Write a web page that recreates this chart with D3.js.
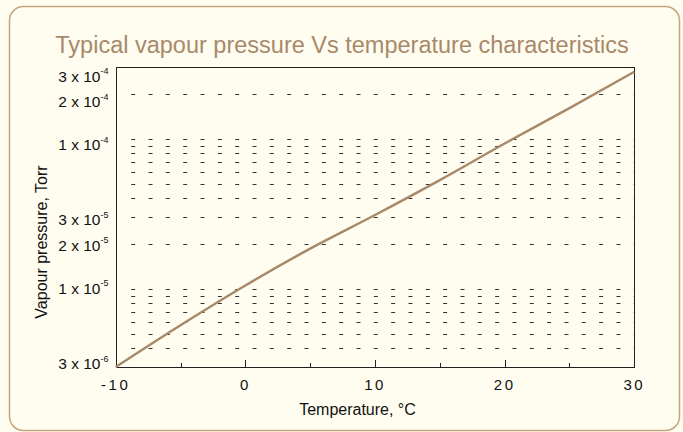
<!DOCTYPE html>
<html>
<head>
<meta charset="utf-8">
<script src="https://cdn.jsdelivr.net/npm/d3@7"></script>
<style>
    html, body { margin: 0; padding: 0; background: #fffdf0; }
    svg { display: block; font-family: 'Liberation Sans', Arial, sans-serif; }
</style>
</head>
<body>
<div id="chart"></div>
<script>
// data
var temps = [-10, -5, 0, 5, 10, 15, 20, 25, 30];                       // deg C
var pressures = [3.0e-6, 5.7e-6, 1.05e-5, 1.85e-5, 3.1e-5, 5.3e-5, 9.3e-5, 1.6e-4, 2.8e-4]; // Torr

var xMajorTicks = [-10, 0, 10, 20, 30];
var xMinorTicks = [-5, 5, 15, 25];
var yGridValues = [4e-6, 5e-6, 6e-6, 7e-6, 8e-6, 9e-6, 1e-5, 2e-5, 3e-5, 4e-5, 5e-5,
                   6e-5, 7e-5, 8e-5, 9e-5, 1e-4, 2e-4, 3e-4];
var yLabelValues = [3e-4, 2e-4, 1e-4, 3e-5, 2e-5, 1e-5, 3e-6];

var vpChart = {

    config: {
        w: 683,
        h: 432,
        left: 115.7,
        right: 634.3,
        top: 67.3,
        bottom: 367,

        titlecolor: '#a8896a',
        linecolor: '#a88a6b',
        bordercolor: '#c6a57e',
        axiscolor: '#222222',
    },

    run: function() {
        var c = vpChart.config;

        var svg = d3.select('#chart').append('svg')
            .attr('width', c.w)
            .attr('height', c.h);

        // rounded frame round everything
        svg.append('rect')
            .attr('x', 9.5).attr('y', 6.5)
            .attr('width', 670).attr('height', 424)
            .attr('rx', 14).attr('ry', 14)
            .attr('fill', 'none')
            .attr('stroke', c.bordercolor)
            .attr('stroke-width', 1.5);

        svg.append('text')
            .attr('x', 342).attr('y', 53)
            .attr('text-anchor', 'middle')
            .attr('font-size', 23.5)
            .attr('fill', c.titlecolor)
            .text('Typical vapour pressure Vs temperature characteristics');

        var x = d3.scaleLinear().domain([-10, 30]).range([c.left, c.right]);
        var y = d3.scaleLog().domain([3e-6, 3e-4]).range([c.bottom, c.top]);
        // the tick labels sit on a slightly squeezed copy of the y scale
        var yLab = y.copy().range([c.bottom + 2, c.top + 14.5]);

        // dashed grid
        svg.append('g').selectAll('line').data(yGridValues).enter()
            .append('line')
            .attr('x1', c.left + 15.5)
            .attr('x2', c.right)
            .attr('y1', function(d) { return Math.round(y(d)) + 0.5; })
            .attr('y2', function(d) { return Math.round(y(d)) + 0.5; })
            .attr('stroke', '#333')
            .attr('stroke-dasharray', '4,13.33');

        // frame
        svg.append('rect')
            .attr('x', Math.round(c.left) + 0.5)
            .attr('y', Math.round(c.top) + 0.5)
            .attr('width', Math.round(c.right) - Math.round(c.left))
            .attr('height', Math.round(c.bottom) - Math.round(c.top))
            .attr('fill', 'none')
            .attr('stroke', c.axiscolor);

        // inward ticks on the bottom axis
        svg.append('g').selectAll('line').data(xMajorTicks).enter()
            .append('line')
            .attr('x1', function(d) { return Math.round(x(d)) + 0.5; })
            .attr('x2', function(d) { return Math.round(x(d)) + 0.5; })
            .attr('y1', c.bottom).attr('y2', c.bottom - 7)
            .attr('stroke', c.axiscolor);
        svg.append('g').selectAll('line').data(xMinorTicks).enter()
            .append('line')
            .attr('x1', function(d) { return Math.round(x(d)) + 0.5; })
            .attr('x2', function(d) { return Math.round(x(d)) + 0.5; })
            .attr('y1', c.bottom).attr('y2', c.bottom - 4)
            .attr('stroke', c.axiscolor);

        svg.append('g').selectAll('text').data(xMajorTicks).enter()
            .append('text')
            .attr('x', function(d) { return x(d) ; })
            .attr('y', 390)
            .attr('text-anchor', 'middle')
            .attr('font-size', 15)
            .attr('letter-spacing', 2.5)
            .attr('fill', '#111')
            .text(function(d) { return d; });

        // y labels as "m x 10^e"
        var yl = svg.append('g').selectAll('text').data(yLabelValues).enter()
            .append('text')
            .attr('x', 108.5)
            .attr('y', function(d) { return yLab(d); })
            .attr('text-anchor', 'end')
            .attr('font-size', 15.5)
            .attr('fill', '#111');
        yl.append('tspan')
            .text(function(d) {
                var e = Math.floor(Math.log10(d) + 1e-9);
                return Math.round(d / Math.pow(10, e)) + ' x 10';
            });
        yl.append('tspan')
            .attr('dy', -7.5)
            .attr('font-size', 9)
            .text(function(d) { return Math.floor(Math.log10(d) + 1e-9); });

        // axis titles
        svg.append('text')
            .attr('x', 357.5).attr('y', 415)
            .attr('text-anchor', 'middle')
            .attr('font-size', 16)
            .attr('fill', '#111')
            .text('Temperature, \u00b0C');
        svg.append('text')
            .attr('transform', 'translate(46.5,242) rotate(-90)')
            .attr('text-anchor', 'middle')
            .attr('font-size', 16)
            .attr('fill', '#111')
            .text('Vapour pressure, Torr');

        // the curve
        var line = d3.line()
            .x(function(d, i) { return x(temps[i]); })
            .y(function(d) { return y(d); })
            .curve(d3.curveMonotoneX);

        svg.append('path')
            .datum(pressures)
            .attr('d', line)
            .attr('fill', 'none')
            .attr('stroke', c.linecolor)
            .attr('stroke-width', 2.5);
    },
}

vpChart.run();
</script>
</body>
</html>
